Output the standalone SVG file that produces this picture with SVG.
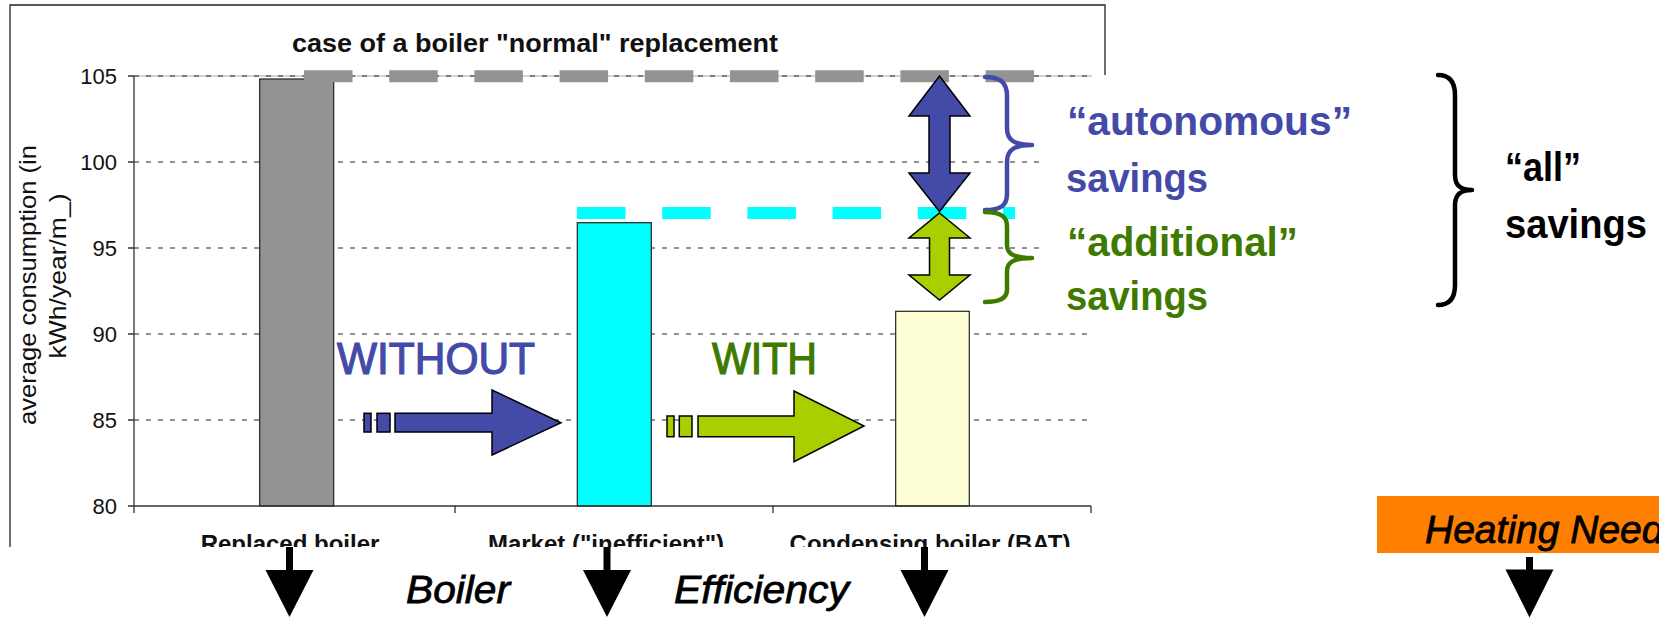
<svg xmlns="http://www.w3.org/2000/svg" width="1659" height="619" viewBox="0 0 1659 619">
<style>
.frame{stroke:#222;stroke-width:1.3;fill:none}
.axis{stroke:#333;stroke-width:1.3;fill:none}
.grid{stroke:#222;stroke-width:1;stroke-dasharray:5 7;fill:none}
.tick{font-family:"Liberation Sans",Arial,sans-serif;font-size:22px;fill:#111;text-anchor:end}
.cat{font-family:"Liberation Sans",Arial,sans-serif;font-size:24px;font-weight:bold;fill:#111;text-anchor:middle}
.bar{stroke:#222;stroke-width:1.2}
.blue{fill:#434AA8}
.green{fill:#3F7A00}
.big{font-family:"Liberation Sans",Arial,sans-serif;font-size:40px;font-weight:bold}
.cap{font-family:"Liberation Sans",Arial,sans-serif;font-size:44px;stroke-width:1.2}
.ital{font-family:"Liberation Sans",Arial,sans-serif;font-size:39px;font-style:italic;fill:#000;stroke:#000;stroke-width:0.8}
.brace{fill:none;stroke-width:4.5;stroke-linecap:round;stroke-linejoin:round}
.arr{stroke:#000;stroke-width:1.5}
.down{fill:#000}
</style>
<defs>
<clipPath id="chartclip"><rect x="0" y="0" width="1659" height="547"/></clipPath>
</defs>
<rect width="1659" height="619" fill="#fff"/>

<g id="chart">
  <path class="frame" d="M10,547 V5 H1105 V75"/>
  <line x1="134" y1="76" x2="1092" y2="76" stroke="#a8a8a8" stroke-width="1.2"/>
  <line class="grid" x1="134" y1="76" x2="1092" y2="76"/>
  <line class="grid" x1="134" y1="162" x2="1043" y2="162"/>
  <line class="grid" x1="134" y1="248" x2="1043" y2="248"/>
  <line class="grid" x1="134" y1="334" x2="1091" y2="334"/>
  <line class="grid" x1="134" y1="420" x2="1091" y2="420"/>
  <text x="292" y="52" font-family="Liberation Sans, Arial, sans-serif" font-size="26" font-weight="bold" fill="#111" textLength="486" lengthAdjust="spacingAndGlyphs">case of a boiler "normal" replacement</text>
  <text class="tick" x="117" y="84">105</text>
  <text class="tick" x="117" y="170">100</text>
  <text class="tick" x="117" y="256">95</text>
  <text class="tick" x="117" y="342">90</text>
  <text class="tick" x="117" y="428">85</text>
  <text class="tick" x="117" y="514">80</text>
  <text transform="translate(36,285) rotate(-90)" font-family="Liberation Sans, Arial, sans-serif" font-size="24" fill="#111" text-anchor="middle" textLength="280" lengthAdjust="spacingAndGlyphs">average consumption (in</text>
  <text transform="translate(66,276) rotate(-90)" font-family="Liberation Sans, Arial, sans-serif" font-size="24" fill="#111" text-anchor="middle" textLength="165" lengthAdjust="spacingAndGlyphs">kWh/year/m_)</text>
  <rect class="bar" x="259.7" y="79" width="74" height="427" fill="#939393"/>
  <rect class="bar" x="577.3" y="222.7" width="74" height="283.3" fill="#00FFFF"/>
  <rect class="bar" x="895.7" y="311.3" width="73.6" height="194.7" fill="#FFFFD6"/>
  <path class="axis" d="M134,76 V506 H1091 M128,76 H134 M128,162 H134 M128,248 H134 M128,334 H134 M128,420 H134 M128,506 H134 M134,506 V513 M455,506 V513 M773,506 V513 M1091,506 V513"/>
  <g clip-path="url(#chartclip)">
    <text class="cat" x="290" y="552">Replaced boiler</text>
    <text class="cat" x="606" y="552">Market ("inefficient")</text>
    <text class="cat" x="930" y="552">Condensing boiler (BAT)</text>
  </g>
  <line x1="304" y1="76.3" x2="1034" y2="76.3" stroke="#939393" stroke-width="12" stroke-dasharray="48.5 36.7"/>
  <line x1="577" y1="213" x2="1015" y2="213" stroke="#00FFFF" stroke-width="12" stroke-dasharray="48.5 36.7"/>
</g>

<g id="connectors">
  <g id="without-arrow" class="arr">
    <rect class="blue" x="364" y="413.3" width="7" height="18.7"/>
    <rect class="blue" x="377" y="413.3" width="13" height="18.7"/>
    <polygon class="blue" points="395,413.3 492,413.3 492,390 561,422.7 492,455 492,432 395,432"/>
  </g>
  <g id="with-arrow" class="arr">
    <rect x="667" y="416" width="7" height="20.7" fill="#A8D000"/>
    <rect x="679.3" y="416" width="12.7" height="20.7" fill="#A8D000"/>
    <polygon points="698,416 794,416 794,391 864,426 794,461.7 794,436.7 698,436.7" fill="#A8D000"/>
  </g>
  <polygon id="autonomous-arrow" class="arr blue" points="939.5,76 970,116 950,116 950,173 970,173 939.5,211.5 909,173 929,173 929,116 909,116"/>
  <polygon id="additional-arrow" class="arr" fill="#A8D000" points="939.5,213 970,238 949.5,238 949.5,275 970,275 939.5,300 909,275 929.5,275 929.5,238 909,238"/>
  <path id="brace-autonomous" class="brace" stroke="#434AA8" d="M985,77 C1000,77 1007,82 1007,96 L1007,128 C1007,140 1014,145 1032,145 C1014,145 1007,150 1007,162 L1007,194 C1007,206 1000,210 985,210"/>
  <path id="brace-additional" class="brace" stroke="#3F7A00" d="M985,212 C1000,212 1007,216 1007,226 L1007,245 C1007,254 1014,258 1032,258 C1014,258 1007,262 1007,271 L1007,290 C1007,298 1000,302 985,302"/>
  <path id="brace-all" class="brace" stroke="#000" d="M1438,75 C1450,75 1455,82 1455,95 L1455,175 C1455,185 1460,190 1472,190 C1460,190 1455,195 1455,205 L1455,285 C1455,298 1450,305 1438,305"/>
  <g id="down-arrows" class="down">
    <rect x="286" y="547" width="7" height="24"/><polygon points="265.5,570 313.5,570 289.5,617"/>
    <rect x="603.5" y="547" width="7" height="24"/><polygon points="583,570 631,570 607,617"/>
    <rect x="921" y="547" width="7" height="24"/><polygon points="900.5,570 948.5,570 924.5,617"/>
    <rect x="1526" y="557" width="7" height="13"/><polygon points="1505.5,569.5 1553.5,569.5 1529.5,617.5"/>
  </g>
</g>

<g id="label-without"><text class="cap blue" stroke="#434AA8" x="337" y="374" textLength="198" lengthAdjust="spacingAndGlyphs">WITHOUT</text></g>
<g id="label-with"><text class="cap green" stroke="#3F7A00" x="712" y="374" textLength="105" lengthAdjust="spacingAndGlyphs">WITH</text></g>
<g id="label-autonomous">
  <text class="big blue" x="1067" y="135" textLength="285" lengthAdjust="spacingAndGlyphs">“autonomous”</text>
  <text class="big blue" x="1066" y="192" textLength="142" lengthAdjust="spacingAndGlyphs">savings</text>
</g>
<g id="label-additional">
  <text class="big green" x="1067" y="256" textLength="231" lengthAdjust="spacingAndGlyphs">“additional”</text>
  <text class="big green" x="1066" y="310" textLength="142" lengthAdjust="spacingAndGlyphs">savings</text>
</g>
<g id="label-all">
  <text class="big" fill="#000" x="1505" y="181" textLength="76" lengthAdjust="spacingAndGlyphs">“all”</text>
  <text class="big" fill="#000" x="1505" y="238" textLength="142" lengthAdjust="spacingAndGlyphs">savings</text>
</g>
<g id="label-boiler"><text class="ital" x="406" y="603" textLength="104" lengthAdjust="spacingAndGlyphs">Boiler</text></g>
<g id="label-efficiency"><text class="ital" x="674" y="603" textLength="175" lengthAdjust="spacingAndGlyphs">Efficiency</text></g>
<g id="heating-needs">
  <rect x="1377" y="496" width="290" height="57" fill="#FF7F00"/>
  <text class="ital" x="1425" y="543">Heating Need</text>
</g>
</svg>
